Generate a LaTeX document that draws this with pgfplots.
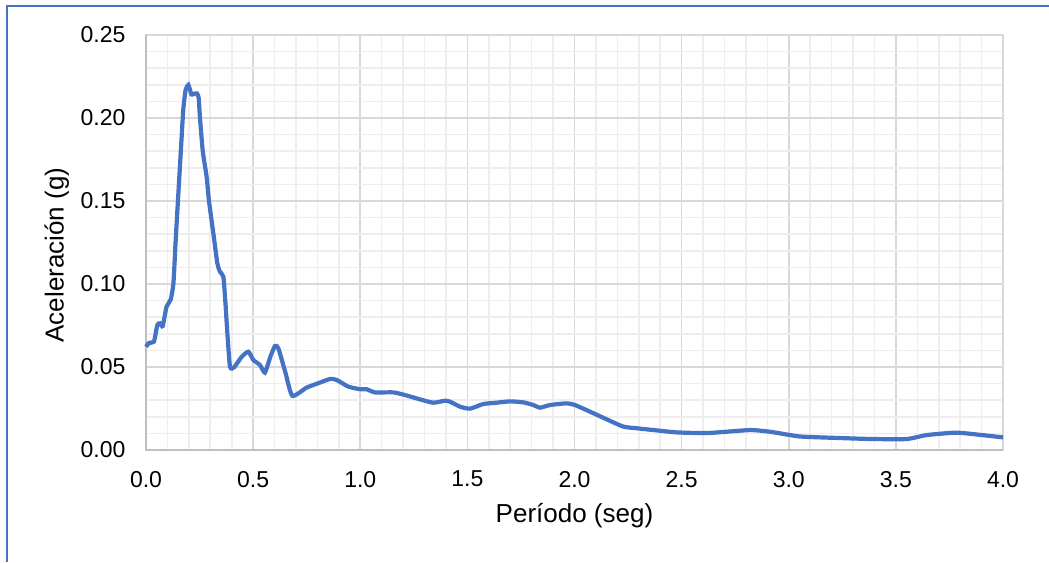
\documentclass[border=0pt]{standalone}
\usepackage{pgfplots}
\pgfplotsset{compat=1.18}
\usepackage{fontspec}
\setmainfont{Liberation Sans}
\definecolor{exblue}{HTML}{4472C4}
\definecolor{majgrid}{HTML}{D9D9D9}
\definecolor{mingrid}{HTML}{EEEEEE}
\definecolor{axgray}{HTML}{BFBFBF}
\begin{document}
\begin{tikzpicture}
\useasboundingbox (0,0) rectangle (524.5pt,281pt);
\draw[exblue, line width=1.1pt] (3.5pt,0) -- (3.5pt,278pt) -- (524.5pt,278pt);
\begin{axis}[
  at={(73pt,56pt)}, anchor=south west,
  width=428.5pt, height=207.5pt, scale only axis,
  xmin=0, xmax=4, ymin=0, ymax=0.25,
  xtick={0,0.5,...,4}, ytick={0,0.05,...,0.25},
  minor x tick num=4, minor y tick num=4,
  major tick length=0pt, minor tick length=0pt,
  grid=both,
  major grid style={draw=majgrid, line width=0.8pt},
  minor grid style={draw=mingrid, line width=0.8pt},
  axis line style={draw=majgrid, line width=0.8pt},
  /pgf/number format/assume math mode=true,
  xticklabel style={/pgf/number format/.cd, fixed, fixed zerofill, precision=1, /tikz/.cd, font=\fontsize{11.5}{13}\selectfont, yshift=-7pt},
  yticklabel style={/pgf/number format/.cd, fixed, fixed zerofill, precision=2, /tikz/.cd, font=\fontsize{11.5}{13}\selectfont, xshift=-6.8pt},
  scaled y ticks=false,
  xlabel={Período (seg)},
  ylabel={Aceleración (g)},
  xlabel style={font=\fontsize{13}{15}\selectfont, at={(axis description cs:0.5,-0.159)}, anchor=center},
  ylabel style={font=\fontsize{13}{15}\selectfont, at={(axis description cs:-0.104,0.47)}, anchor=center},
  clip=false,
]
\draw[axgray, line width=0.8pt] (rel axis cs:0,1) -- (rel axis cs:0,0) -- (rel axis cs:1,0);
\addplot[exblue, line width=2.1pt, smooth, tension=0.35] coordinates {
(0.000,0.0622) (0.015,0.0646) (0.037,0.0653) (0.053,0.0753) (0.065,0.0763)
(0.078,0.0747) (0.096,0.0864) (0.115,0.0905) (0.128,0.1004) (0.138,0.125)
(0.149,0.150) (0.163,0.181) (0.174,0.205) (0.185,0.2170) (0.198,0.2199)
(0.212,0.2142) (0.222,0.2145) (0.238,0.2148) (0.246,0.2120) (0.252,0.2000)
(0.265,0.1800) (0.283,0.1646) (0.294,0.150) (0.318,0.127) (0.333,0.1124)
(0.345,0.1074) (0.361,0.1044) (0.370,0.090) (0.380,0.070) (0.392,0.0502)
(0.411,0.0498) (0.447,0.0562) (0.478,0.0592) (0.501,0.0542) (0.532,0.0512)
(0.555,0.0466) (0.580,0.0560) (0.602,0.0627) (0.618,0.0612) (0.650,0.0470)
(0.683,0.0327) (0.750,0.0376) (0.812,0.0406) (0.859,0.0428) (0.890,0.0422)
(0.944,0.0382) (0.999,0.0366) (1.030,0.0366) (1.069,0.0347) (1.154,0.0347)
(1.209,0.0331) (1.279,0.0305) (1.341,0.0285) (1.396,0.0297) (1.419,0.0291)
(1.466,0.0261) (1.512,0.0249) (1.574,0.0277) (1.637,0.0285) (1.699,0.0293)
(1.761,0.0287) (1.808,0.0271) (1.839,0.0255) (1.886,0.0271) (1.963,0.0281)
(2.002,0.0271) (2.072,0.0231) (2.150,0.0185) (2.228,0.0141) (2.290,0.0131)
(2.399,0.0116) (2.477,0.0106) (2.586,0.0102) (2.648,0.0104) (2.819,0.0120)
(2.912,0.0110) (3.006,0.0090) (3.068,0.0080) (3.286,0.0070) (3.395,0.0066)
(3.550,0.0066) (3.644,0.0090) (3.768,0.0104) (3.830,0.0100) (4.000,0.0076)
};
\end{axis}
\end{tikzpicture}
\end{document}
